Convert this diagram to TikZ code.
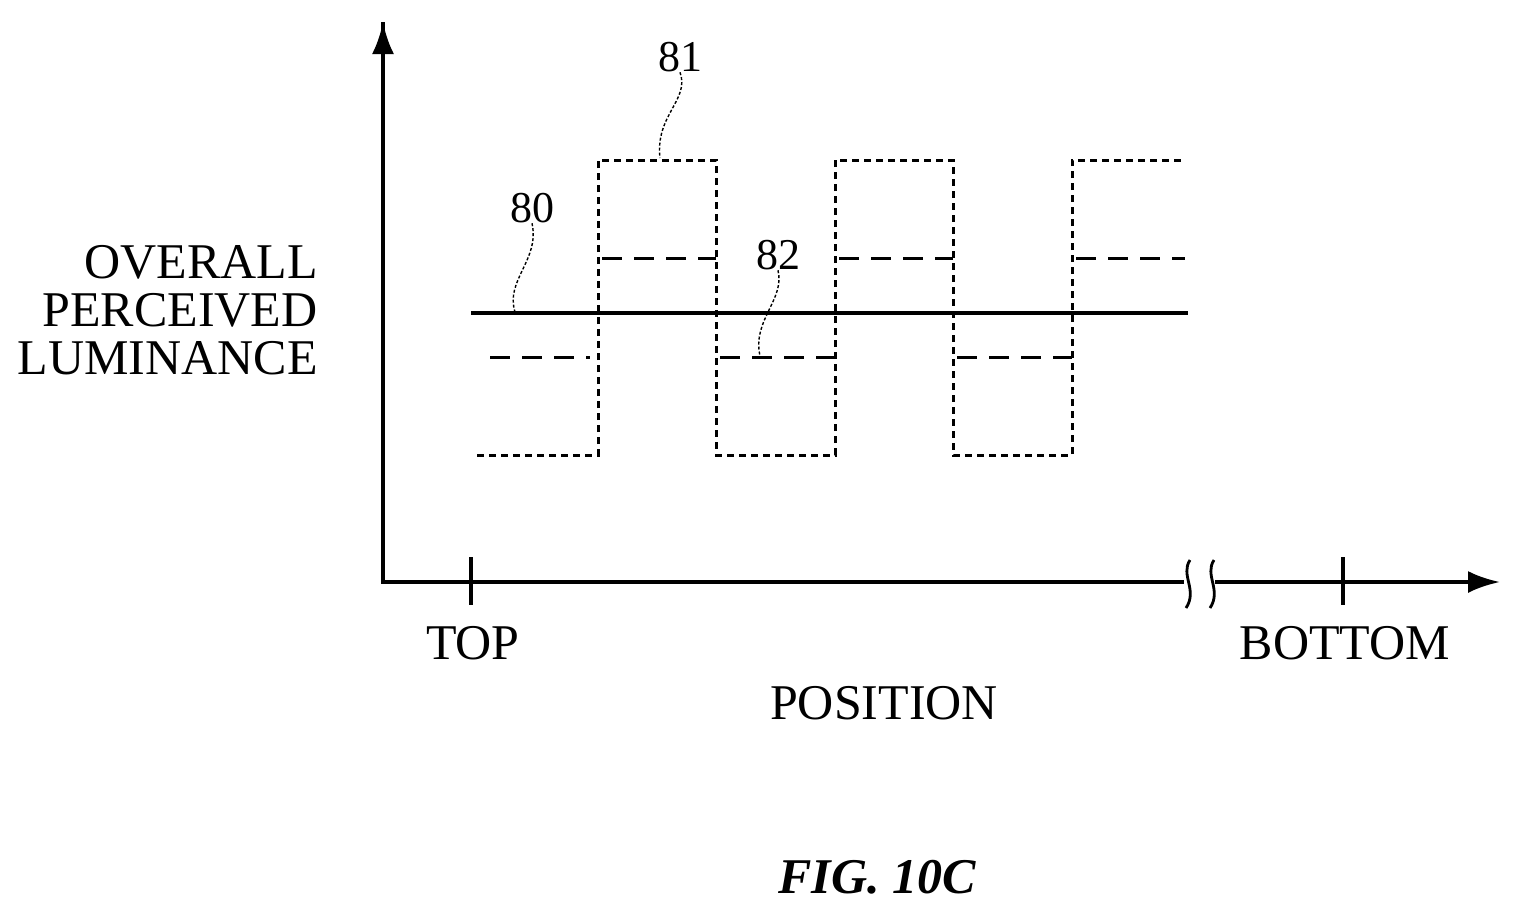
\documentclass[tikz,border=0pt]{standalone}
\usepackage{fontspec}
\setmainfont{Liberation Serif}
\usetikzlibrary{arrows.meta,decorations.pathmorphing}
\begin{document}
\begin{tikzpicture}[x=0.5pt,y=-0.5pt,
  ax/.style={line width=2pt,-{Latex[length=16pt,width=11pt]}},
  lbl/.style={font=\fontsize{25}{24}\selectfont,inner sep=0pt},
  num/.style={font=\fontsize{22}{24}\selectfont,inner sep=0pt},
  dot/.style={line width=1.5pt,dash pattern=on 3.5pt off 2.5pt},
  dsh/.style={line width=1.5pt,dash pattern=on 10pt off 6pt},
  lead/.style={line width=0.7pt,dash pattern=on 1.5pt off 1pt}]
\useasboundingbox (0,0) rectangle (1519,918);
\coordinate (o) at (383,582);
\coordinate (yt) at (383,22);
\coordinate (b1) at (1184,582);
\coordinate (b2) at (1215,582);
\coordinate (xe) at (1500,582);
\draw[line width=2pt] (yt) -- (o) -- (b1);
\draw[ax] (o) -- (yt);
\draw[ax] (b2) -- (xe);
\draw[line width=1.4pt] (1190,560) .. controls (1180,575) and (1198,590) .. (1186,608);
\draw[line width=1.4pt] (1214,560) .. controls (1204,575) and (1222,590) .. (1210,608);
\draw[line width=2pt] (471,557) -- (471,605);
\draw[line width=2pt] (1343,557) -- (1343,605);
\node[lbl] (top) at (473,643) {TOP};
\node[lbl] (bot) at (1345,643) {BOTTOM};
\node[lbl] (pos) at (884,703) {POSITION};
\node[lbl,align=right,anchor=east] (yl) at (318,310) {OVERALL\\PERCEIVED\\LUMINANCE};
\draw[line width=1.8pt] (471,313) -- (1188,313);
\draw[dot] (477,455) -- (598,455) -- (598,160) -- (716,160) -- (716,455) -- (835,455) -- (835,160) -- (953,160) -- (953,455) -- (1072,455) -- (1072,160) -- (1185,160);
\draw[dsh] (490,357) -- (590,357);
\draw[dsh] (602,258) -- (716,258);
\draw[dsh] (720,357) -- (835,357);
\draw[dsh] (839,258) -- (953,258);
\draw[dsh] (957,357) -- (1072,357);
\draw[dsh] (1076,258) -- (1185,258);
\node[num] (l81) at (680,57) {81};
\node[num] (l80) at (532,208) {80};
\node[num] (l82) at (778,255) {82};
\draw[lead] (l81.south) .. controls (690,100) and (655,115) .. (660,158);
\draw[lead] (l80.south) .. controls (540,260) and (505,280) .. (515,312);
\draw[lead] (l82.south) .. controls (785,300) and (752,320) .. (760,356);
\node[font=\fontsize{25}{29}\selectfont\bfseries\itshape,inner sep=0pt] (fig) at (877,877) {FIG. 10C};
\end{tikzpicture}
\end{document}
